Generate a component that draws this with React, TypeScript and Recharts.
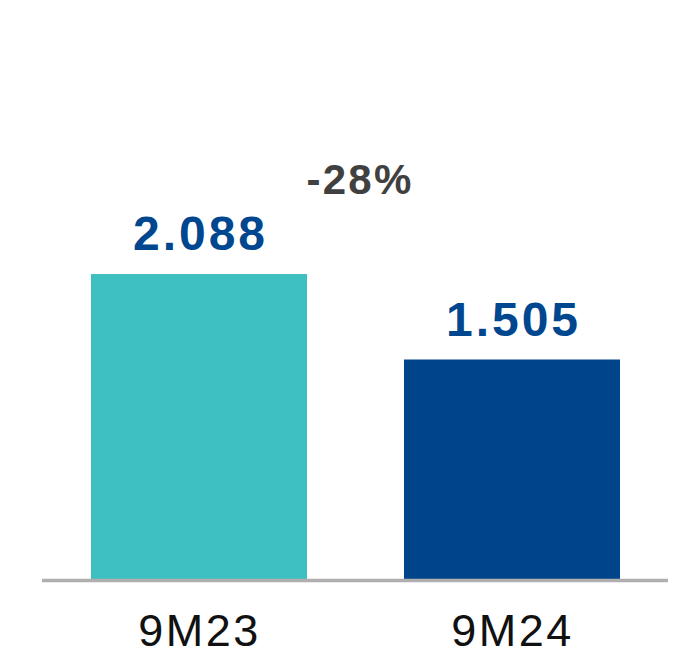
import { BarChart, Bar, XAxis, YAxis, Cell, LabelList } from "recharts";

const periods = ["9M23", "9M24"];
const values = [2088, 1505];
const valueLabels = ["2.088", "1.505"];
const barColors = ["#3EBFC0", "#00458B"];
const changeLabel = "-28%";

const data = periods.map((p, i) => ({ period: p, value: values[i], label: valueLabels[i] }));

const FONT = "'Liberation Sans', Arial, sans-serif";

function ValueLabel(props: any) {
  const { x, y, width, index } = props;
  return (
    <text
      x={x + width / 2 + 1.5}
      y={y - 24}
      textAnchor="middle"
      fill="#00478F"
      fontFamily={FONT}
      fontWeight="bold"
      fontSize={48}
      letterSpacing={3}
    >
      {valueLabels[index]}
    </text>
  );
}

function PeriodTick(props: any) {
  const { x, y, payload } = props;
  return (
    <text
      x={x + 1}
      y={y + 57}
      textAnchor="middle"
      fill="#111"
      fontFamily={FONT}
      fontSize={45}
      letterSpacing={2.5}
    >
      {payload.value}
    </text>
  );
}

export default function App() {
  return (
    <div style={{ position: "absolute", left: 0, top: 0, background: "#fff" }}>
      <BarChart
        width={673}
        height={668}
        data={data}
        margin={{ top: 140, right: 5, left: 42, bottom: 57.5 }}
      >
        <XAxis
          dataKey="period"
          height={30}
          axisLine={{ stroke: "#B0AEAE", strokeWidth: 3.5 }}
          tickLine={false}
          tick={<PeriodTick />}
          interval={0}
        />
        <YAxis hide domain={[0, 3000]} />
        <Bar dataKey="value" barSize={216} isAnimationActive={false}>
          {data.map((d, i) => (
            <Cell key={d.period} fill={barColors[i]} />
          ))}
          <LabelList dataKey="label" content={<ValueLabel />} />
        </Bar>
        <text
          x={360}
          y={194}
          textAnchor="middle"
          fill="#404040"
          fontFamily={FONT}
          fontWeight="bold"
          fontSize={42}
          letterSpacing={2.3}
        >
          {changeLabel}
        </text>
      </BarChart>
    </div>
  );
}
